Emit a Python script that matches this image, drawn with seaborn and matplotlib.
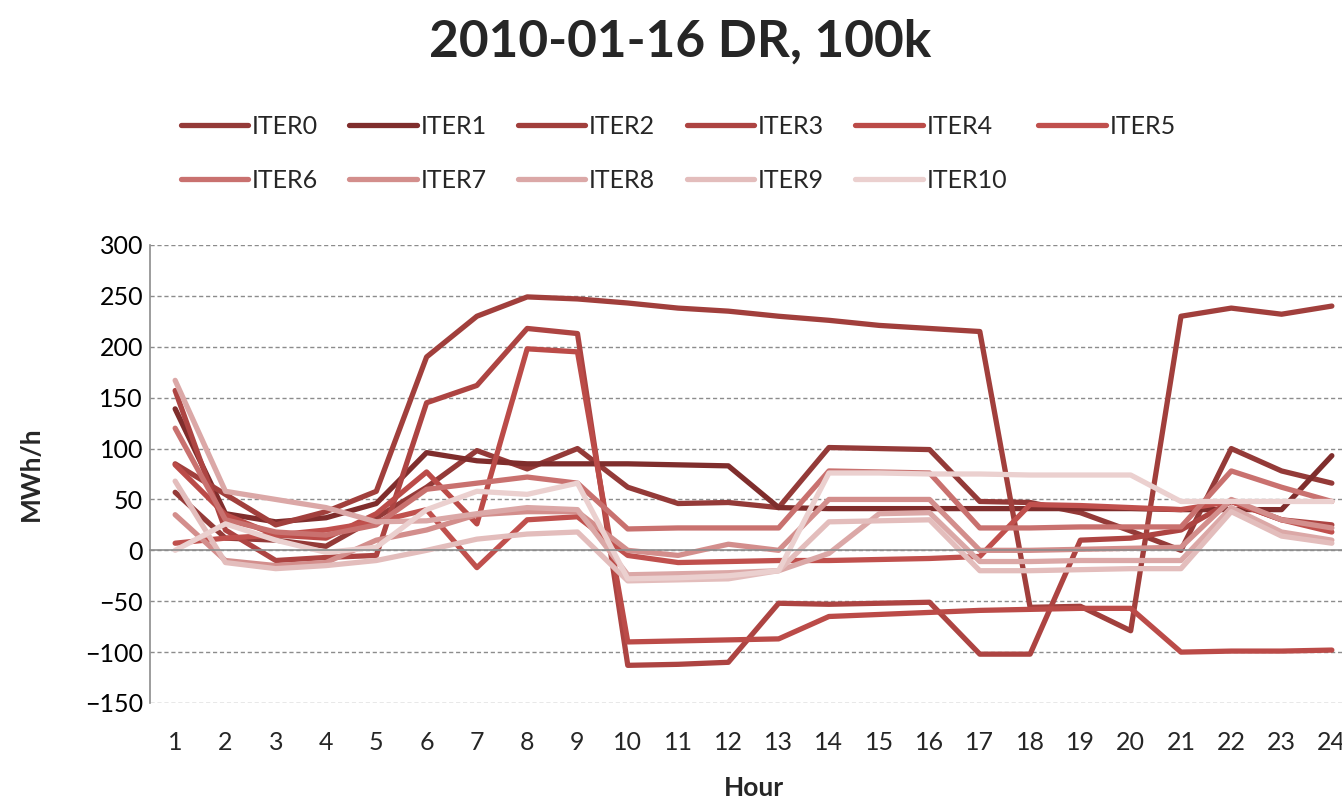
import matplotlib
matplotlib.use("Agg")
import numpy as np
import pandas as pd
import matplotlib.pyplot as plt
import seaborn as sns

hours = list(range(1, 25))
series_names = [f"ITER{i}" for i in range(11)]

iter0 = [57, 12, 10, 4, 32, 62, 98, 80, 100, 62, 46, 47, 42, 101, 100, 99, 48, 47, 37, 19, 0, 100, 78, 66]
iter1 = [139, 36, 28, 32, 46, 96, 88, 85, 85, 85, 84, 83, 42, 41, 41, 41, 41, 41, 41, 41, 40, 40, 40, 93]
iter2 = [85, 55, 25, 38, 58, 190, 230, 249, 247, 243, 238, 235, 230, 226, 221, 218, 215, -56, -55, -79, 230, 238, 232, 240]
iter3 = [157, 20, -10, -7, -5, 145, 162, 218, 213, -113, -112, -110, -52, -53, -52, -51, -102, -102, 10, 12, 20, 48, 30, 25]
iter4 = [84, 35, 15, 12, 36, 77, 26, 198, 195, -90, -89, -88, -87, -65, -63, -61, -59, -58, -57, -57, -100, -99, -99, -98]
iter5 = [7, 12, 15, 20, 28, 40, -17, 30, 33, -5, -12, -11, -10, -10, -9, -8, -6, 45, 44, 42, 40, 48, 30, 18]
iter6 = [120, 30, 18, 15, 25, 60, 66, 72, 66, 21, 22, 22, 22, 78, 77, 76, 22, 22, 23, 23, 23, 78, 62, 48]
iter7 = [35, -10, -15, -12, 10, 20, 35, 38, 38, 0, -5, 6, 0, 50, 50, 50, 0, 0, 1, 2, 3, 50, 30, 22]
iter8 = [167, 58, 50, 42, 28, 29, 36, 42, 40, -24, -23, -22, -20, -3, 36, 37, -11, -11, -10, -10, -10, 42, 18, 10]
iter9 = [68, -12, -18, -15, -10, 0, 11, 16, 18, -30, -29, -28, -20, 28, 29, 30, -20, -20, -19, -18, -18, 38, 14, 7]
iter10 = [0, 26, 10, -2, 3, 40, 58, 55, 66, -28, -27, -25, -20, 76, 76, 75, 75, 74, 74, 74, 48, 48, 48, 48]

all_series = [iter0, iter1, iter2, iter3, iter4, iter5, iter6, iter7, iter8, iter9, iter10]
colors = ["#943a38", "#7f2d2c", "#a13f3c", "#ad4442", "#bb4b48", "#c0504d",
          "#c9716f", "#d38e8c", "#dba8a7", "#e3bdbc", "#ebd0cf"]

title = "2010-01-16 DR, 100k"
y_ticks = [300, 250, 200, 150, 100, 50, 0, -50, -100, -150]

rows = []
for name, vals in zip(series_names, all_series):
    for h, v in zip(hours, vals):
        rows.append({"Hour": h, "Value": v, "Series": name})
df = pd.DataFrame(rows)

sns.set_theme(style="white")
plt.rcParams['font.family'] = ['Lato', 'DejaVu Sans']

W, H = 1342, 806
fig = plt.figure(figsize=(W / 100, H / 100), dpi=100)
ax = fig.add_axes([150 / W, 103 / H, 1207 / W, 458 / H])

sns.lineplot(data=df, x="Hour", y="Value", hue="Series", hue_order=series_names,
             palette=colors, linewidth=3.8, estimator=None, sort=False, ax=ax)

handles, labels = ax.get_legend_handles_labels()
ax.get_legend().remove()
for hd in handles:
    hd.set_linewidth(3.8)
    hd.set_solid_capstyle('round')

ax.set_xlim(0.5, 24.5)
ax.set_ylim(-150, 300)
ax.set_yticks(y_ticks)
ax.yaxis.grid(True, linestyle=(0, (3, 2)), color="#8c8c8c", linewidth=1)
ax.xaxis.grid(False)
ax.set_axisbelow(True)
ax.tick_params(axis='y', length=0, pad=5, labelsize=18, labelcolor="#000000")

for s in ["top", "right"]:
    ax.spines[s].set_visible(False)
ax.spines["left"].set_color("#8c8c8c")
ax.spines["left"].set_linewidth(1.2)
ax.spines["bottom"].set_position(("data", 0))
ax.spines["bottom"].set_color("#8c8c8c")
ax.spines["bottom"].set_linewidth(1.2)

# category boundary ticks on the zero line
ax.set_xticks([h + 0.5 for h in hours[:-1]] + [0.5])
ax.set_xticklabels([])
ax.tick_params(axis='x', direction='out', length=7, width=1.2, color="#8c8c8c")
ax.set_xlabel("")
ax.set_ylabel("MWh/h", fontsize=19, fontweight='bold', labelpad=30)

secax = ax.secondary_xaxis(0)
secax.set_xticks(hours)
secax.set_xticklabels([str(h) for h in hours])
secax.tick_params(length=0, pad=20, labelsize=18)
secax.spines["bottom"].set_visible(False)
secax.set_xlabel("Hour", fontsize=19, fontweight='bold', labelpad=16)

fig.text(680 / W, 1 - 42 / H, title, ha='center', va='center', fontsize=37, fontweight='bold')

# row-major legend order for 2 rows x 6 columns
order = [0, 6, 1, 7, 2, 8, 3, 9, 4, 10, 5]
fig.legend([handles[i] for i in order], [labels[i] for i in order], ncol=6, loc='upper left',
           bbox_to_anchor=(158 / W, 1 - 92 / H), frameon=False,
           fontsize=18, handlelength=2.7, handletextpad=0.15,
           columnspacing=1.25, labelspacing=1.25)

fig.savefig("out.png", dpi=100)
